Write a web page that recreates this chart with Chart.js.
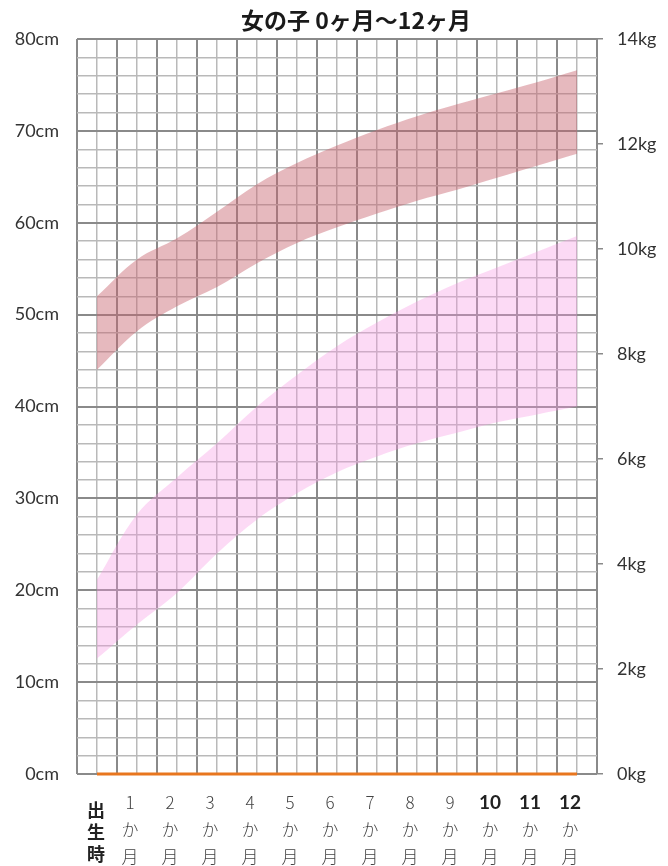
<!DOCTYPE html>
<html lang="ja">
<head>
<meta charset="utf-8">
<title>女の子 0ヶ月～12ヶ月</title>
<script src="https://cdn.jsdelivr.net/npm/chart.js@4.4.1/dist/chart.umd.min.js"></script>
<style>
  html, body { margin: 0; padding: 0; background: #fff; }
  canvas { display: block; }
</style>
</head>
<body>
<canvas id="growth" width="668" height="866"></canvas>
<script>
// months after birth (0 = 出生時)
const months = [0, 1, 2, 3, 4, 5, 6, 7, 8, 9, 10, 11, 12];
const monthLabels = [
    ['出', '生', '時'],
    ['1', 'か', '月'], ['2', 'か', '月'], ['3', 'か', '月'], ['4', 'か', '月'],
    ['5', 'か', '月'], ['6', 'か', '月'], ['7', 'か', '月'], ['8', 'か', '月'],
    ['9', 'か', '月'], ['10', 'か', '月'], ['11', 'か', '月'], ['12', 'か', '月']
];

// 身長 (cm) band
const heightUpper = [52.0, 56.0, 58.3, 61.2, 64.2, 66.5, 68.4, 70.1, 71.6, 72.9, 74.1, 75.3, 76.6];
const heightLower = [44.0, 48.2, 50.9, 53.0, 55.6, 57.8, 59.5, 61.0, 62.4, 63.6, 64.9, 66.2, 67.5];

// 体重 (kg) band
const weightUpper = [3.7, 4.95, 5.65, 6.3, 7.0, 7.6, 8.15, 8.6, 9.0, 9.35, 9.65, 9.95, 10.25];
const weightLower = [2.2, 2.85, 3.45, 4.2, 4.85, 5.35, 5.75, 6.05, 6.3, 6.5, 6.7, 6.85, 7.0];

// orange base line along the bottom
const baseLine = [0, 0, 0, 0, 0, 0, 0, 0, 0, 0, 0, 0, 0];

const chartTitle = '女の子 0ヶ月～12ヶ月';

const toPoints = vals => months.map((m, i) => ({ x: m, y: vals[i] }));

const darkGrid = '#8a8a8a';
const lightGrid = '#b9b9b9';

// title drawn above the plot
const titlePlugin = {
    id: 'titleText',
    afterDraw(chart) {
        const ctx = chart.ctx;
        ctx.save();
        ctx.font = 'bold 23px "Noto Sans CJK JP"';
        ctx.fillStyle = '#1a1a1a';
        ctx.textAlign = 'center';
        ctx.textBaseline = 'middle';
        ctx.fillText(chartTitle, 356, 20);
        ctx.restore();
    }
};

// stacked month labels under the x axis
const monthLabelPlugin = {
    id: 'monthLabels',
    afterDraw(chart) {
        const ctx = chart.ctx;
        const xs = chart.scales.x;
        ctx.save();
        ctx.textAlign = 'center';
        ctx.textBaseline = 'middle';
        monthLabels.forEach((lines, i) => {
            const first = i === 0;
            const x = xs.getPixelForValue(months[i]) + (first ? -1 : -7);
            const rows = first ? [810, 832, 854] : [803, 830, 857];
            lines.forEach((txt, j) => {
                if (first) {
                    ctx.font = 'bold 18px "Noto Sans CJK JP"';
                    ctx.fillStyle = '#222';
                } else if (j === 0 && i >= 10) {
                    ctx.font = 'bold 19px Lato';
                    ctx.fillStyle = '#222';
                } else {
                    ctx.font = '300 17px "Noto Sans CJK JP"';
                    ctx.fillStyle = '#444';
                }
                ctx.fillText(txt, x, rows[j]);
            });
        });
        ctx.restore();
    }
};

const band = (data, axis, color) => ({
    data: toPoints(data),
    yAxisID: axis,
    borderWidth: 0,
    pointRadius: 0,
    tension: 0.35,
    backgroundColor: color,
    fill: color ? '+1' : false
});

new Chart(document.getElementById('growth'), {
    type: 'line',
    data: {
        datasets: [
            band(heightUpper, 'y', 'rgba(200,100,110,0.45)'),
            band(heightLower, 'y', null),
            band(weightUpper, 'y1', 'rgba(245,150,225,0.35)'),
            band(weightLower, 'y1', null),
            {
                data: toPoints(baseLine),
                yAxisID: 'y',
                borderColor: '#e8761e',
                borderWidth: 3,
                pointRadius: 0,
                fill: false,
                clip: false
            }
        ]
    },
    options: {
        responsive: false,
        animation: false,
        layout: { padding: { top: 39, left: 0, right: 0, bottom: 0 } },
        plugins: {
            legend: { display: false },
            tooltip: { enabled: false }
        },
        scales: {
            x: {
                type: 'linear',
                min: -0.5,
                max: 12.5,
                afterFit: s => { s.height = 92; },
                ticks: { display: false, stepSize: 0.5, autoSkip: false },
                border: { display: false },
                grid: {
                    drawTicks: false,
                    color: c => Number.isInteger(c.tick.value) ? lightGrid : darkGrid,
                    lineWidth: c => Number.isInteger(c.tick.value) ? 1.5 : 2
                }
            },
            y: {
                position: 'left',
                min: 0,
                max: 80,
                afterFit: s => { s.width = 77; },
                ticks: {
                    stepSize: 2,
                    autoSkip: false,
                    padding: 18,
                    color: '#333',
                    font: { family: 'Lato', size: 18 },
                    callback: v => v % 10 === 0 ? v + 'cm' : ''
                },
                border: { display: false },
                grid: {
                    drawTicks: false,
                    color: c => c.tick.value % 10 === 0 ? darkGrid : lightGrid,
                    lineWidth: c => c.tick.value % 10 === 0 ? 2 : 1.5
                }
            },
            y1: {
                position: 'right',
                min: 0,
                max: 14,
                afterFit: s => { s.width = 71; },
                ticks: {
                    stepSize: 2,
                    autoSkip: false,
                    padding: 14,
                    color: '#333',
                    font: { family: 'Lato', size: 18 },
                    callback: v => v + 'kg'
                },
                border: { display: false },
                grid: {
                    drawOnChartArea: false,
                    drawTicks: true,
                    tickLength: 6,
                    color: darkGrid,
                    lineWidth: 1.5
                }
            }
        }
    },
    plugins: [titlePlugin, monthLabelPlugin]
});
</script>
</body>
</html>
